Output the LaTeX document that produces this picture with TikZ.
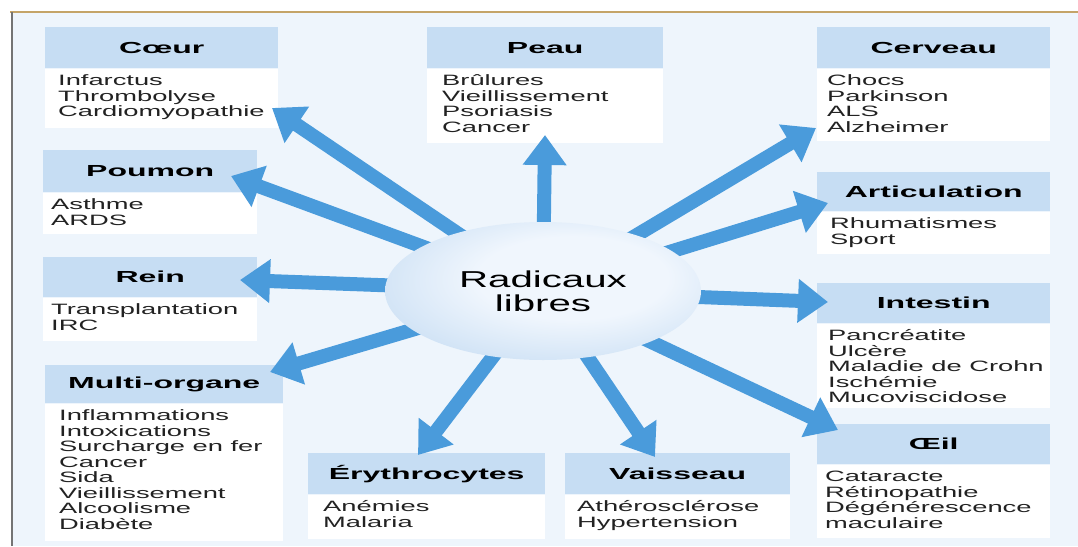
\documentclass[tikz,border=0pt]{standalone}
\usepackage{fontspec}
\usetikzlibrary{arrows.meta,shapes.geometric}
\newfontfamily\bodyfont{Liberation Sans}[FakeStretch=1.82]
\newfontfamily\headfont{Liberation Sans}[FakeStretch=2.0]
\newfontfamily\centerfont{Liberation Sans}[FakeStretch=1.75]
\definecolor{pagebg}{HTML}{EEF5FC}
\definecolor{hdrblue}{HTML}{C6DDF3}
\definecolor{arrowblue}{HTML}{4A9BDB}
\definecolor{rimgold}{HTML}{C4A468}
\definecolor{rimgray}{HTML}{747474}
\definecolor{textgray}{HTML}{222222}
\definecolor{ellin}{HTML}{F0F6FD}
\definecolor{ellout}{HTML}{A9CBEC}
\pgfdeclarelayer{frame}
\pgfdeclarelayer{boxes}
\pgfdeclarelayer{arrows}
\pgfsetlayers{frame,boxes,arrows,main}
\pgfdeclareradialshading{radglow}{\pgfpoint{6bp}{6bp}}{color(0bp)=(ellin); color(15bp)=(ellin); color(50bp)=(ellout); color(70bp)=(ellout)}
\tikzset{
  hdrbox/.style={anchor=north west, fill=hdrblue, inner sep=0pt,
    font=\headfont\bfseries\fontsize{16}{16}\selectfont, text=black},
  bodybox/.style={anchor=north west, fill=white, inner sep=0pt},
  bodytext/.style={anchor=north west, inner sep=0pt, align=left,
    font=\bodyfont\fontsize{15}{15.5}\selectfont, text=textgray},
  ray/.style={draw=arrowblue, line width=14pt,
    -{Triangle[width=42pt,length=30pt]}},
}
% name, left, top, width, header height, body height, title, lines, text indent
\newcommand\organ[9]{%
  \node[hdrbox, minimum width=#4pt, minimum height=#5pt] (#1) at (#2,#3) {#7};
  \node[bodybox, minimum width=#4pt, minimum height=#6pt] (#1-body) at (#1.south west) {};
  \node[bodytext] (#1-text) at ([xshift=#9pt]#1-body.north west) {\rule{0pt}{17pt}#8};
}
\begin{document}
\begin{tikzpicture}[x=1pt,y=-1pt]
\useasboundingbox (0,0) rectangle (1078,546);
\begin{pgfonlayer}{frame}
  \fill[white] (0,0) rectangle (1078,546);
  \fill[pagebg] (12,12) rectangle (1078,546);
  \draw[rimgold, line width=2pt] (10,12) -- (1078,12);
  \draw[rimgray, line width=2pt] (12,12) -- (12,546);
\end{pgfonlayer}

\begin{pgfonlayer}{boxes}
\organ{coeur}{45}{27}{233}{41}{59}{Cœur}{Infarctus\\Thrombolyse\\Cardiomyopathie}{13}
\organ{peau}{427}{27}{236}{41}{74}{Peau}{Brûlures\\Vieillissement\\Psoriasis\\Cancer}{15}
\organ{cerveau}{817}{27}{233}{41}{72}{Cerveau}{Chocs\\Parkinson\\ALS\\Alzheimer}{10}
\organ{poumon}{43}{150}{214}{42}{41}{Poumon}{Asthme\\ARDS}{8}
\organ{rein}{43}{257}{214}{40}{43}{Rein}{Transplantation\\IRC}{8}
\organ{artic}{817}{172}{233}{39}{42}{Articulation}{Rhumatismes\\Sport}{13}
\organ{intestin}{817}{283}{233}{40}{84}{Intestin}{Pancréatite\\Ulcère\\Maladie de Crohn\\Ischémie\\Mucoviscidose}{11}
\organ{oeil}{817}{424}{233}{40}{73}{Œil}{Cataracte\\Rétinopathie\\Dégénérescence\\maculaire}{8}
\organ{multi}{45}{365}{238}{38}{137}{Multi-organe}{Inflammations\\Intoxications\\Surcharge en fer\\Cancer\\Sida\\Vieillissement\\Alcoolisme\\Diabète}{14}
\organ{ery}{308}{453}{237}{41}{44}{Érythrocytes}{Anémies\\Malaria}{15}
\organ{vaiss}{565}{453}{225}{41}{44}{Vaisseau}{Athérosclérose\\Hypertension}{12}
\end{pgfonlayer}

% central hub
\node[ellipse, minimum width=316pt, minimum height=138pt, inner sep=0pt,
  shading=radglow, align=center, text=black,
  font=\centerfont\fontsize{23}{24}\selectfont] (rad) at (543,291) {Radicaux\\libres};

% arrow tips
\coordinate (coeur-tip) at (272,108);
\coordinate (peau-tip) at (545,135);
\coordinate (cerveau-tip) at (816,128);
\coordinate (poumon-tip) at (231,176);
\coordinate (rein-tip) at (240,280);
\coordinate (artic-tip) at (828,203);
\coordinate (intestin-tip) at (828,302);
\coordinate (oeil-tip) at (838,430);
\coordinate (multi-tip) at (270,372);
\coordinate (ery-tip) at (418,455);
\coordinate (vaiss-tip) at (655,457);

\begin{pgfonlayer}{arrows}
  \foreach \t in {coeur,peau,cerveau,poumon,rein,artic,intestin,oeil,multi,ery,vaiss}
    \draw[ray] (rad.center) -- (\t-tip);
\end{pgfonlayer}
\end{tikzpicture}
\end{document}
